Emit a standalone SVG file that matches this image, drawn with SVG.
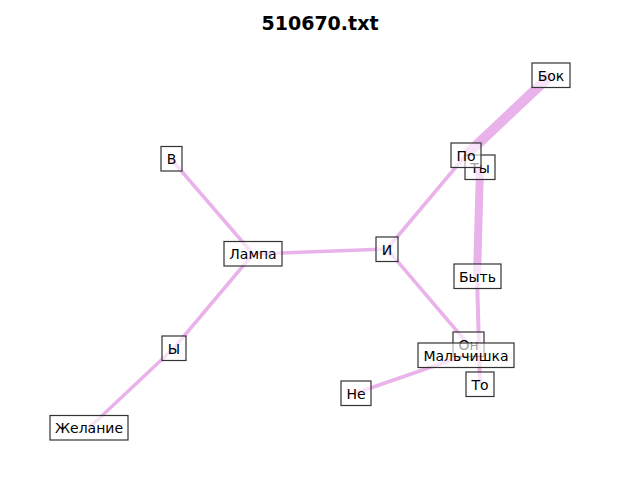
<svg xmlns="http://www.w3.org/2000/svg" width="640" height="480" viewBox="0 0 640 480">
<style>
.e{stroke:#eab2ea;fill:none;stroke-linecap:butt}
.b{fill:#ffffff;fill-opacity:0.62;stroke:#333333;stroke-width:1.2}
.t{font-family:"DejaVu Sans",sans-serif;font-size:14px;fill:#000;text-anchor:middle}
.title{font-family:"DejaVu Sans",sans-serif;font-size:19px;font-weight:bold;fill:#000;text-anchor:middle}
</style>
<rect width="640" height="480" fill="#fff"/>
<text class="title" x="320" y="30">510670.txt</text>
<g id="edges">
<line class="e" x1="551" y1="75" x2="466" y2="155" stroke-width="10"/>
<line class="e" x1="480" y1="167" x2="477" y2="276" stroke-width="8"/>
<line class="e" x1="477" y1="276" x2="480" y2="384" stroke-width="4"/>
<line class="e" x1="466" y1="155" x2="387" y2="249" stroke-width="3.5"/>
<line class="e" x1="387" y1="249" x2="253" y2="254" stroke-width="3.5"/>
<line class="e" x1="387" y1="249" x2="468" y2="344" stroke-width="3.5"/>
<line class="e" x1="253" y1="254" x2="171" y2="159" stroke-width="3.5"/>
<line class="e" x1="253" y1="254" x2="174" y2="348" stroke-width="3.5"/>
<line class="e" x1="174" y1="348" x2="89" y2="428" stroke-width="3.5"/>
<line class="e" x1="356" y1="393" x2="466" y2="355" stroke-width="3.5"/>
</g>
<g id="n-bok"><rect class="b" x="532" y="63" width="38" height="24.5"/><text class="t" x="551" y="80.5">Бок</text></g>
<g id="n-ty"><rect class="b" x="465" y="155" width="30" height="24.5"/><text class="t" x="480" y="172.5">Ты</text></g>
<g id="n-po"><rect class="b" x="451" y="143" width="30" height="24.5"/><text class="t" x="466" y="160.5">По</text></g>
<g id="n-v"><rect class="b" x="161" y="146.5" width="21" height="24.5"/><text class="t" x="171.5" y="164">В</text></g>
<g id="n-lampa"><rect class="b" x="224" y="241.5" width="58" height="24.5"/><text class="t" x="253" y="259">Лампа</text></g>
<g id="n-i"><rect class="b" x="376" y="237" width="22" height="24.5"/><text class="t" x="387" y="254.5">И</text></g>
<g id="n-byt"><rect class="b" x="454" y="264" width="47" height="24.5"/><text class="t" x="477.5" y="281.5">Быть</text></g>
<g id="n-on"><rect class="b" x="453" y="332" width="31" height="24.5"/><text class="t" x="468.5" y="349.5">Он</text></g>
<g id="n-malchishka"><rect class="b" x="418" y="343" width="96" height="24.5"/><text class="t" x="466" y="360.5">Мальчишка</text></g>
<g id="n-to"><rect class="b" x="466" y="372" width="28" height="24.5"/><text class="t" x="480" y="389.5">То</text></g>
<g id="n-ne"><rect class="b" x="341" y="381" width="30" height="24.5"/><text class="t" x="356" y="398.5">Не</text></g>
<g id="n-y"><rect class="b" x="162" y="336" width="24" height="24.5"/><text class="t" x="174" y="353.5">Ы</text></g>
<g id="n-zhelanie"><rect class="b" x="50" y="415.5" width="78" height="24.5"/><text class="t" x="89" y="433">Желание</text></g>
</svg>
